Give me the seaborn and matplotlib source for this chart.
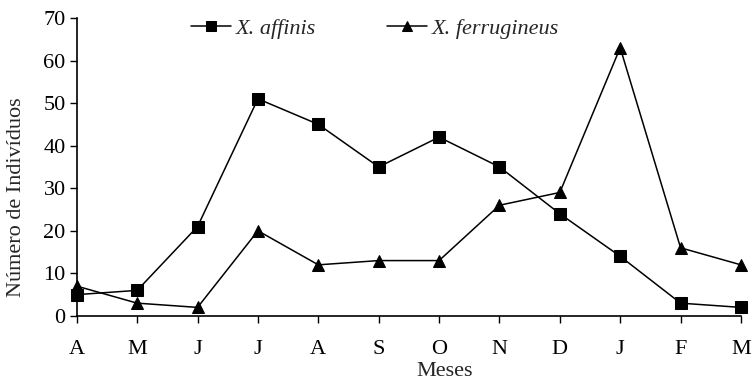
import pandas as pd
import seaborn as sns
import matplotlib.pyplot as plt

# dados
meses = ["A", "M", "J", "J", "A", "S", "O", "N", "D", "J", "F", "M"]
affinis = [5, 6, 21, 51, 45, 35, 42, 35, 24, 14, 3, 2]
ferrugineus = [7, 3, 2, 20, 12, 13, 13, 26, 29, 63, 16, 12]

df = pd.DataFrame({"pos": range(len(meses)), "affinis": affinis, "ferrugineus": ferrugineus})

sns.set_style("ticks")
plt.rcParams["font.family"] = ["Liberation Serif", "DejaVu Serif"]
fs = 16

fig = plt.figure(figsize=(7.53, 3.82), dpi=100)
ax = fig.add_axes([0.102, 0.173, 0.882, 0.78])

sns.lineplot(data=df, x="pos", y="affinis", ax=ax, color="black", marker="s",
             markersize=8, linewidth=1.1, markeredgecolor="black",
             label="X. affinis", clip_on=False)
sns.lineplot(data=df, x="pos", y="ferrugineus", ax=ax, color="black", marker="^",
             markersize=9, linewidth=1.1, markeredgecolor="black",
             label="X. ferrugineus", clip_on=False)

ax.set_xlim(0, len(meses) - 1)
ax.set_ylim(0, 70)
ax.set_yticks(range(0, 71, 10))
ax.set_xticks(range(len(meses)))
ax.set_xticklabels(meses)
ax.tick_params(axis="both", labelsize=fs, direction="out", length=5, width=1, colors="black")
ax.tick_params(axis="x", pad=12)
ax.tick_params(axis="y", pad=3)
ax.set_xlabel("Meses", fontsize=fs)
ax.set_ylabel("Número de Indivíduos", fontsize=fs)
ax.xaxis.set_label_coords(0.554, -0.155)
ax.yaxis.set_label_coords(-0.076, 0.40)
sns.despine(ax=ax)
for s in ["left", "bottom"]:
    ax.spines[s].set_linewidth(1.2)
    ax.spines[s].set_color("black")

leg = ax.legend(loc="upper center", bbox_to_anchor=(0.449, 1.065), ncol=2, frameon=False,
                handlelength=1.8, handletextpad=0.2, columnspacing=3.2, markerscale=0.85,
                prop={"family": "Liberation Serif", "style": "italic", "size": fs})

fig.savefig("out.png", dpi=100)
